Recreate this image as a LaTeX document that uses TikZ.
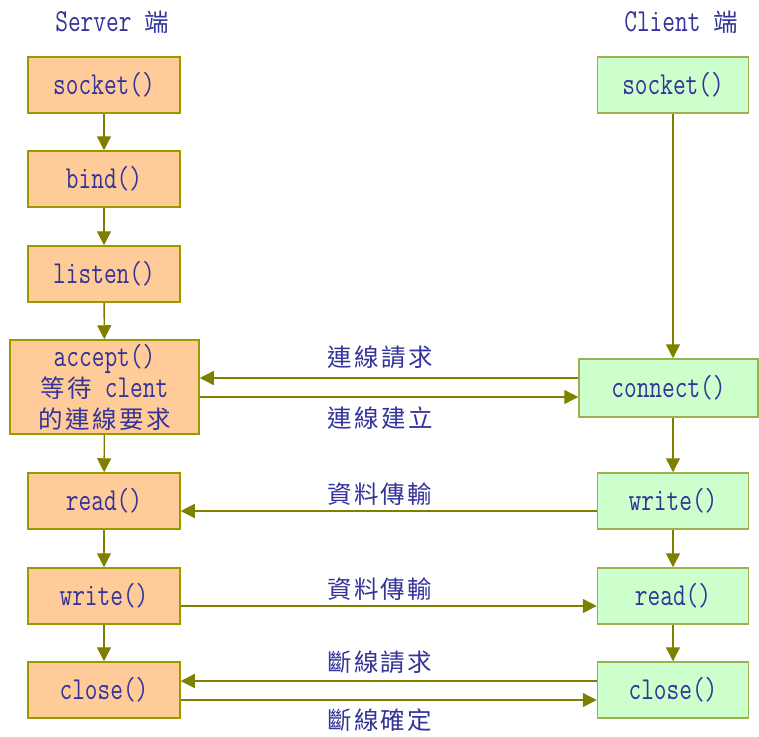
\documentclass[tikz,border=0pt]{standalone}
\usepackage{fontspec}
\newfontfamily\latinfont[FakeStretch=0.77]{Latin Modern Mono}
\newfontfamily\zhfont[LetterSpace=10]{Noto Sans CJK TC}
\newcommand{\zh}[1]{{\zhfont\fontsize{24.5}{31}\selectfont #1}}
\usetikzlibrary{arrows.meta}
\definecolor{textblue}{HTML}{333399}
\definecolor{srvfill}{HTML}{FFCC99}
\definecolor{srvline}{HTML}{999900}
\definecolor{clifill}{HTML}{CCFFCC}
\definecolor{cliline}{HTML}{99B34D}
\definecolor{arrowline}{HTML}{808000}

\begin{document}
\begin{tikzpicture}[x=1pt,y=-1pt,
  every node/.style={text=textblue,font=\latinfont\fontsize{32}{31}\selectfont},
  srv/.style={draw=srvline,fill=srvfill,line width=1.5pt,minimum width=152pt,minimum height=56pt,inner sep=0pt},
  cli/.style={draw=cliline,fill=clifill,line width=1.5pt,minimum width=151pt,minimum height=56pt,inner sep=0pt},
  flow/.style={draw=arrowline,line width=1.4pt,-{Triangle[length=14pt,width=14pt]}},
  msg/.style={midway,inner sep=0pt,xshift=-9pt}]
  \useasboundingbox (0,0) rectangle (759,736);
%  headers
  \path (112,22) node (srvhead) {Server \zh{端}};
  \path (681,22) node (clihead) {Client \zh{端}};

%  server side
  \path (104,85)  node[srv] (ssocket) {socket()};
  \path (104,179) node[srv] (sbind)   {bind()};
  \path (104,274) node[srv] (slisten) {listen()};
  \path (104.5,387) node[srv,minimum width=189pt,minimum height=94pt,align=center] (saccept)
        {accept()\\\zh{等待} clent\\\zh{的連線要求}};
  \path (104,501) node[srv] (sread)  {read()};
  \path (104,596) node[srv] (swrite) {write()};
  \path (104,690) node[srv] (sclose) {close()};

%  client side
  \path (673,85)  node[cli] (csocket) {socket()};
  \path (668.5,388) node[cli,minimum width=179pt,minimum height=58pt] (cconnect) {connect()};
  \path (673,501) node[cli] (cwrite) {write()};
  \path (673,596) node[cli] (cread)  {read()};
  \path (673,690) node[cli] (cclose) {close()};

  \draw[flow] (ssocket) -- (sbind);
  \draw[flow] (sbind) -- (slisten);
  \draw[flow] (slisten) -- (saccept);
  \draw[flow] (saccept) -- (sread);
  \draw[flow] (sread) -- (swrite);
  \draw[flow] (swrite) -- (sclose);

  \draw[flow] (csocket.south) -- (csocket.south |- cconnect.north);
  \draw[flow] (cwrite.north |- cconnect.south) -- (cwrite.north);
  \draw[flow] (cwrite) -- (cread);
  \draw[flow] (cread) -- (cclose);

%  messages
  \draw[flow] ([yshift=10pt]cconnect.west) -- ([yshift=10pt]cconnect.west -| saccept.east)
        node[msg,yshift=21pt] (mreq) {\zh{連線請求}};
  \draw[flow] ([yshift=-10pt]saccept.east) -- ([yshift=-10pt]saccept.east -| cconnect.west)
        node[msg,yshift=-21pt] (mest) {\zh{連線建立}};
  \draw[flow] ([yshift=-10pt]cwrite.west) -- ([yshift=-10pt]cwrite.west -| sread.east)
        node[msg,yshift=17pt] (mdata1) {\zh{資料傳輸}};
  \draw[flow] ([yshift=-10pt]swrite.east) -- ([yshift=-10pt]swrite.east -| cread.west)
        node[msg,yshift=17pt] (mdata2) {\zh{資料傳輸}};
  \draw[flow] ([yshift=9pt]cclose.west) -- ([yshift=9pt]cclose.west -| sclose.east)
        node[msg,yshift=19pt] (mfin) {\zh{斷線請求}};
  \draw[flow] ([yshift=-10pt]sclose.east) -- ([yshift=-10pt]sclose.east -| cclose.west)
        node[msg,yshift=-20pt] (mack) {\zh{斷線確定}};
\end{tikzpicture}
\end{document}
